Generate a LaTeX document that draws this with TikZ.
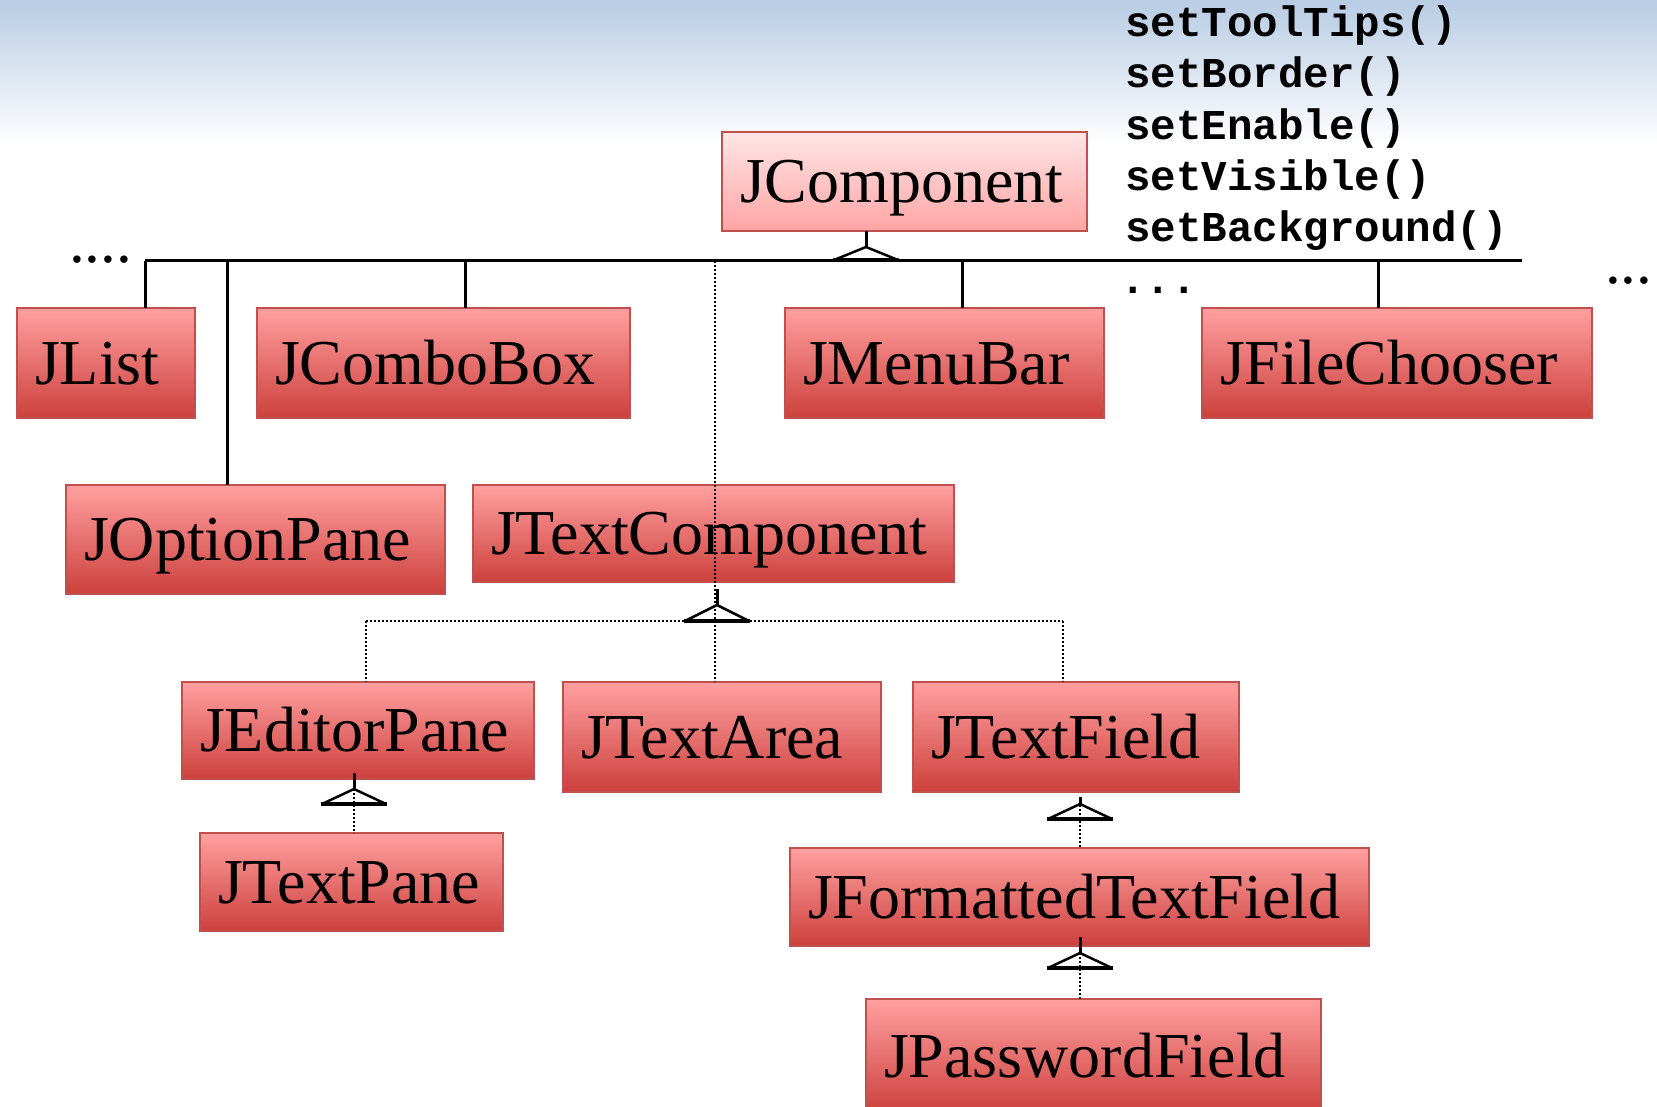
\documentclass[tikz,border=0pt]{standalone}
\usepackage{fontspec}
\setmainfont{Liberation Serif}
\newfontfamily\codefont{Liberation Mono}

\definecolor{bgblue}{RGB}{184,204,228}
\definecolor{redtop}{RGB}{255,160,160}
\definecolor{redbot}{RGB}{204,64,60}
\definecolor{pinktop}{RGB}{255,230,230}
\definecolor{pinkbot}{RGB}{255,164,164}
\definecolor{boxedge}{RGB}{192,80,77}

% TikZ maps the path box onto the middle 25bp..75bp of a shading
\pgfdeclareverticalshading{redfill}{100bp}{color(0bp)=(redbot); color(25bp)=(redbot); color(75bp)=(redtop); color(100bp)=(redtop)}
\pgfdeclareverticalshading{pinkfill}{100bp}{color(0bp)=(pinkbot); color(25bp)=(pinkbot); color(75bp)=(pinktop); color(100bp)=(pinktop)}
\pgfdeclareverticalshading{skyfade}{100bp}{color(0bp)=(white); color(25bp)=(white); color(75bp)=(bgblue); color(100bp)=(bgblue)}

% open-triangle "is-a" mark: apex, triangle height
\newcommand\isamark[2]{%
  \draw[tri] (#1) ++(-32,#2) -- (#1) -- ++(32,#2);
  \draw[basebar] (#1) ++(-33,#2) -- ++(66,0);}

\begin{document}
\begin{tikzpicture}[x=1pt,y=-1pt,
  cls/.style={draw=boxedge, line width=1.5pt, shading=redfill, rectangle,
    anchor=north west, outer sep=0pt, inner xsep=18pt, inner ysep=0pt,
    text height=42pt, text depth=0pt, align=left,
    font=\fontsize{64}{70}\selectfont},
  root/.style={cls, shading=pinkfill},
  method/.style={anchor=base west, inner sep=0pt,
    font=\codefont\bfseries\fontsize{42.5}{50}\selectfont},
  smalldots/.style={anchor=base west, inner sep=0pt,
    font=\fontsize{63}{70}\selectfont},
  solidlink/.style={line width=3pt},
  dotlink/.style={line width=2pt, dash pattern=on 2pt off 2pt},
  tri/.style={line width=2.5pt, line join=miter},
  basebar/.style={line width=4pt}]

\useasboundingbox (0,0) rectangle (1657,1107);
\clip (0,0) rectangle (1657,1107);
\fill[white] (0,0) rectangle (1657,1107);
\shade[shading=skyfade] (0,0) rectangle (1657,145);

% class boxes
\node[root, text width=329pt, minimum height=99pt] (JComponent) at (722,132) {JComponent};

\node[cls, text width=142pt, minimum height=110pt] (JList) at (17,308) {JList};
\node[cls, text width=337pt, minimum height=110pt] (JComboBox) at (257,308) {JComboBox};
\node[cls, text width=283pt, minimum height=110pt] (JMenuBar) at (785,308) {JMenuBar};
\node[cls, text width=354pt, minimum height=110pt] (JFileChooser) at (1202,308) {JFileChooser};

\node[cls, text width=343pt, minimum height=109pt] (JOptionPane) at (66,485) {JOptionPane};
\node[cls, text width=445pt, minimum height=97pt] (JTextComponent) at (473,485) {JTextComponent};

\node[cls, text width=316pt, minimum height=97pt] (JEditorPane) at (182,682) {JEditorPane};
\node[cls, text width=282pt, minimum height=110pt] (JTextArea) at (563,682) {JTextArea};
\node[cls, text width=290pt, minimum height=110pt] (JTextField) at (913,682) {JTextField};

\node[cls, text width=267pt, minimum height=98pt] (JTextPane) at (200,833) {JTextPane};
\node[cls, text width=543pt, minimum height=98pt] (JFormattedTextField) at (790,848) {JFormattedTextField};
\node[cls, text width=419pt, minimum height=114pt] (JPasswordField) at (866,999) {JPasswordField};

% method list
\node[method] (m1) at (1125,37) {setToolTips()};
\node[method] (m2) at (1125,88) {setBorder()};
\node[method] (m3) at (1125,140) {setEnable()};
\node[method] (m4) at (1125,191) {setVisible()};
\node[method] (m5) at (1125,242) {setBackground()};
\node[method] (more) at (1120,294) {...};
\node[smalldots] (dotsL) at (69,263) {....};
\node[smalldots] (dotsR) at (1605,284) {...};

% JComponent subclasses
\coordinate (bus-l) at (145,261);
\coordinate (bus-r) at (1522,261);
\coordinate (b-opt) at (227,261);
\coordinate (b-combo) at (465,261);
\coordinate (b-text) at (715,261);
\coordinate (b-menu) at (962,261);
\coordinate (b-file) at (1378,261);
\coordinate (jc-apex) at (866,247);

\draw[solidlink] (bus-l) -- (bus-r);
\draw[solidlink] (bus-l) -- (bus-l |- JList.north);
\draw[solidlink] (b-opt) -- (b-opt |- JOptionPane.north);
\draw[solidlink] (b-combo) -- (b-combo |- JComboBox.north);
\draw[solidlink] (b-menu) -- (b-menu |- JMenuBar.north);
\draw[solidlink] (b-file) -- (b-file |- JFileChooser.north);
\draw[dotlink] (b-text) -- (b-text |- JTextArea.north);
\draw[solidlink] (jc-apex |- JComponent.south) -- (jc-apex);
\isamark{jc-apex}{13}

% JTextComponent subclasses
\coordinate (tc-apex) at (717,605);
\coordinate (h-l) at (366,621);
\coordinate (h-r) at (1063,621);
\draw[dotlink] (h-l) -- (h-r);
\draw[dotlink] (h-l) -- (h-l |- JEditorPane.north);
\draw[dotlink] (h-r) -- (h-r |- JTextField.north);
\draw[solidlink] ([yshift=-7pt]JTextComponent.south -| tc-apex) -- (tc-apex);
\isamark{tc-apex}{16}

% JEditorPane -> JTextPane
\coordinate (ep-apex) at (354,789);
\draw[solidlink] ([yshift=6pt]JEditorPane.south -| ep-apex) -- (ep-apex);
\draw[dotlink] ([yshift=6pt]JEditorPane.south -| ep-apex) -- (ep-apex |- JTextPane.north);
\isamark{ep-apex}{15}

% JTextField -> JFormattedTextField
\coordinate (tf-apex) at (1080,804);
\draw[solidlink] ([yshift=-5pt]JTextField.south -| tf-apex) -- (tf-apex);
\draw[dotlink] ([yshift=-5pt]JTextField.south -| tf-apex) -- (tf-apex |- JFormattedTextField.north);
\isamark{tf-apex}{15}

% JFormattedTextField -> JPasswordField
\coordinate (ff-apex) at (1080,953);
\draw[solidlink] ([yshift=9pt]JFormattedTextField.south -| ff-apex) -- (ff-apex);
\draw[dotlink] ([yshift=9pt]JFormattedTextField.south -| ff-apex) -- (ff-apex |- JPasswordField.north);
\isamark{ff-apex}{15}

\end{tikzpicture}
\end{document}
